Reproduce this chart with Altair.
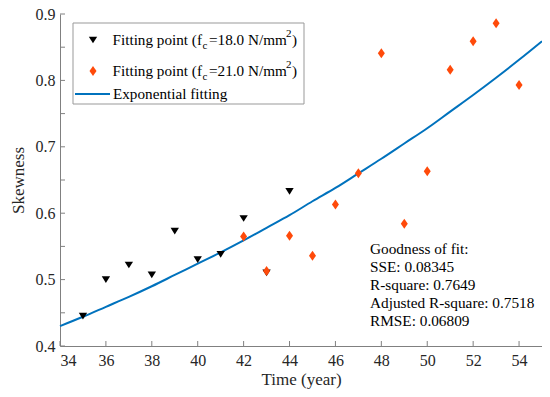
import altair as alt
import pandas as pd

# ---- data ----
tri_years = [35, 36, 37, 38, 39, 40, 41, 42, 43, 44]
tri_vals = [0.445, 0.500, 0.522, 0.507, 0.573, 0.530, 0.538, 0.592, 0.510, 0.633]

dia_years = [42, 43, 44, 45, 46, 47, 48, 49, 50, 51, 52, 53, 54]
dia_vals = [0.565, 0.513, 0.566, 0.536, 0.613, 0.660, 0.841, 0.584, 0.663, 0.816, 0.859, 0.886, 0.793]

fit_years = [34, 35, 36, 37, 38, 39, 40, 41, 42, 43, 44, 45, 46, 47, 48, 49, 50, 51, 52, 53, 54, 55]
fit_vals = [0.430, 0.444, 0.459, 0.474, 0.490, 0.507, 0.524, 0.541, 0.559, 0.578, 0.597, 0.618,
            0.638, 0.660, 0.682, 0.705, 0.728, 0.753, 0.778, 0.804, 0.831, 0.859]

x_ticks = [34, 36, 38, 40, 42, 44, 46, 48, 50, 52, 54]
y_ticks = [0.4, 0.45, 0.5, 0.55, 0.6, 0.65, 0.7, 0.75, 0.8, 0.85, 0.9]

gof_lines = ["Goodness of fit:", "SSE: 0.08345", "R-square: 0.7649",
             "Adjusted R-square: 0.7518", "RMSE: 0.06809"]

FONT = "Liberation Serif"
BLUE = "#0072BD"
ORANGE = "#FF4A0A"
AXIS = "#808080"
TXT = "#262626"
W, H = 482, 332

TRI = "M-1,-0.8L1,-0.8L0,0.8Z"
DIA = "M0,-1L0.7,0L0,1L-0.7,0Z"

xs = alt.Scale(domain=[34, 55], nice=False, zero=False)
ys = alt.Scale(domain=[0.4, 0.9], nice=False, zero=False)

fit_df = pd.DataFrame({"year": fit_years, "val": fit_vals})
tri_df = pd.DataFrame({"year": tri_years, "val": tri_vals})
dia_df = pd.DataFrame({"year": dia_years, "val": dia_vals})
xt_df = pd.DataFrame({"t": x_ticks})
yt_df = pd.DataFrame({"t": y_ticks})

base_x = alt.X("year:Q", scale=xs, axis=alt.Axis(
    title="Time (year)", values=x_ticks, ticks=False, grid=False, labelOverlap=False,
    domainColor=AXIS, labelFont=FONT, labelFontSize=16, labelColor=TXT,
    labelPadding=6, titleFont=FONT, titleFontSize=17, titleFontWeight="normal",
    titleColor=TXT, titlePadding=3))
base_y = alt.Y("val:Q", scale=ys, axis=alt.Axis(
    title="Skewness", values=y_ticks, format=".2~f", ticks=False, grid=False,
    labelOverlap=False,
    domainColor=AXIS, labelFont=FONT, labelFontSize=16, labelColor=TXT,
    labelPadding=5, titleFont=FONT, titleFontSize=17, titleFontWeight="normal",
    titleColor=TXT, titlePadding=8))

fit = alt.Chart(fit_df).mark_line(color=BLUE, strokeWidth=2, interpolate="monotone").encode(
    x=base_x, y=base_y)

tri = alt.Chart(tri_df).mark_point(shape=TRI, filled=True, color="black", size=70, opacity=1).encode(
    x=alt.X("year:Q", scale=xs), y=alt.Y("val:Q", scale=ys))

dia = alt.Chart(dia_df).mark_point(shape=DIA, filled=True, color=ORANGE, size=100, opacity=1).encode(
    x=alt.X("year:Q", scale=xs), y=alt.Y("val:Q", scale=ys))

xticks = alt.Chart(xt_df).mark_rule(color=AXIS, strokeWidth=1).encode(
    x=alt.X("t:Q", scale=xs), y=alt.value(H), y2=alt.value(H - 5))
yticks = alt.Chart(yt_df).mark_rule(color=AXIS, strokeWidth=1).encode(
    y=alt.Y("t:Q", scale=ys), x=alt.value(0), x2=alt.value(5))

one = pd.DataFrame({"a": [0]})

# legend
box = alt.Chart(one).mark_rect(
    fill="white", stroke="#999999", strokeWidth=1).encode(
    x=alt.value(13), x2=alt.value(244), y=alt.value(9), y2=alt.value(90))
leg_tri = alt.Chart(one).mark_point(
    shape=TRI, filled=True, color="black", size=70, opacity=1).encode(
    x=alt.value(33), y=alt.value(26))
leg_dia = alt.Chart(one).mark_point(
    shape=DIA, filled=True, color=ORANGE, size=100, opacity=1).encode(
    x=alt.value(33), y=alt.value(57))
leg_line = alt.Chart(one).mark_rule(color=BLUE, strokeWidth=2).encode(
    x=alt.value(15), x2=alt.value(50), y=alt.value(80))


def txt(s, x, y, size=15.2, align="left", baseline="middle"):
    return alt.Chart(one).mark_text(
        font=FONT, fontSize=size, color="black", align=align, baseline=baseline).encode(
        x=alt.value(x), y=alt.value(y), text=alt.value(s))


leg_texts = []
for yy, val in [(26, "=18.0 N/mm"), (57, "=21.0 N/mm")]:
    leg_texts += [
        txt("Fitting point (f", 142, yy, align="right"),
        txt("c", 142.5, yy + 6, size=11),
        txt(val, 149, yy),
        txt("2", 226, yy - 6, size=11),
        txt(")", 232, yy),
    ]
leg_texts.append(txt("Exponential fitting", 53, 80))

gof = alt.Chart(one).mark_text(
    font=FONT, fontSize=15.3, color="black", align="left", baseline="middle", lineHeight=18).encode(
    x=alt.value(310), y=alt.value(235), text=alt.value(gof_lines))

chart = alt.layer(
    fit, xticks, yticks, tri, dia, box, leg_line, leg_tri, leg_dia, *leg_texts, gof
).properties(
    width=W, height=H,
    autosize=alt.AutoSizeParams(type="none"),
    padding={"left": 52, "top": 6, "right": 0, "bottom": 43},
    background="white",
).configure_view(stroke=None)

chart.save("out.html", embed_options={"renderer": "svg", "actions": False})
